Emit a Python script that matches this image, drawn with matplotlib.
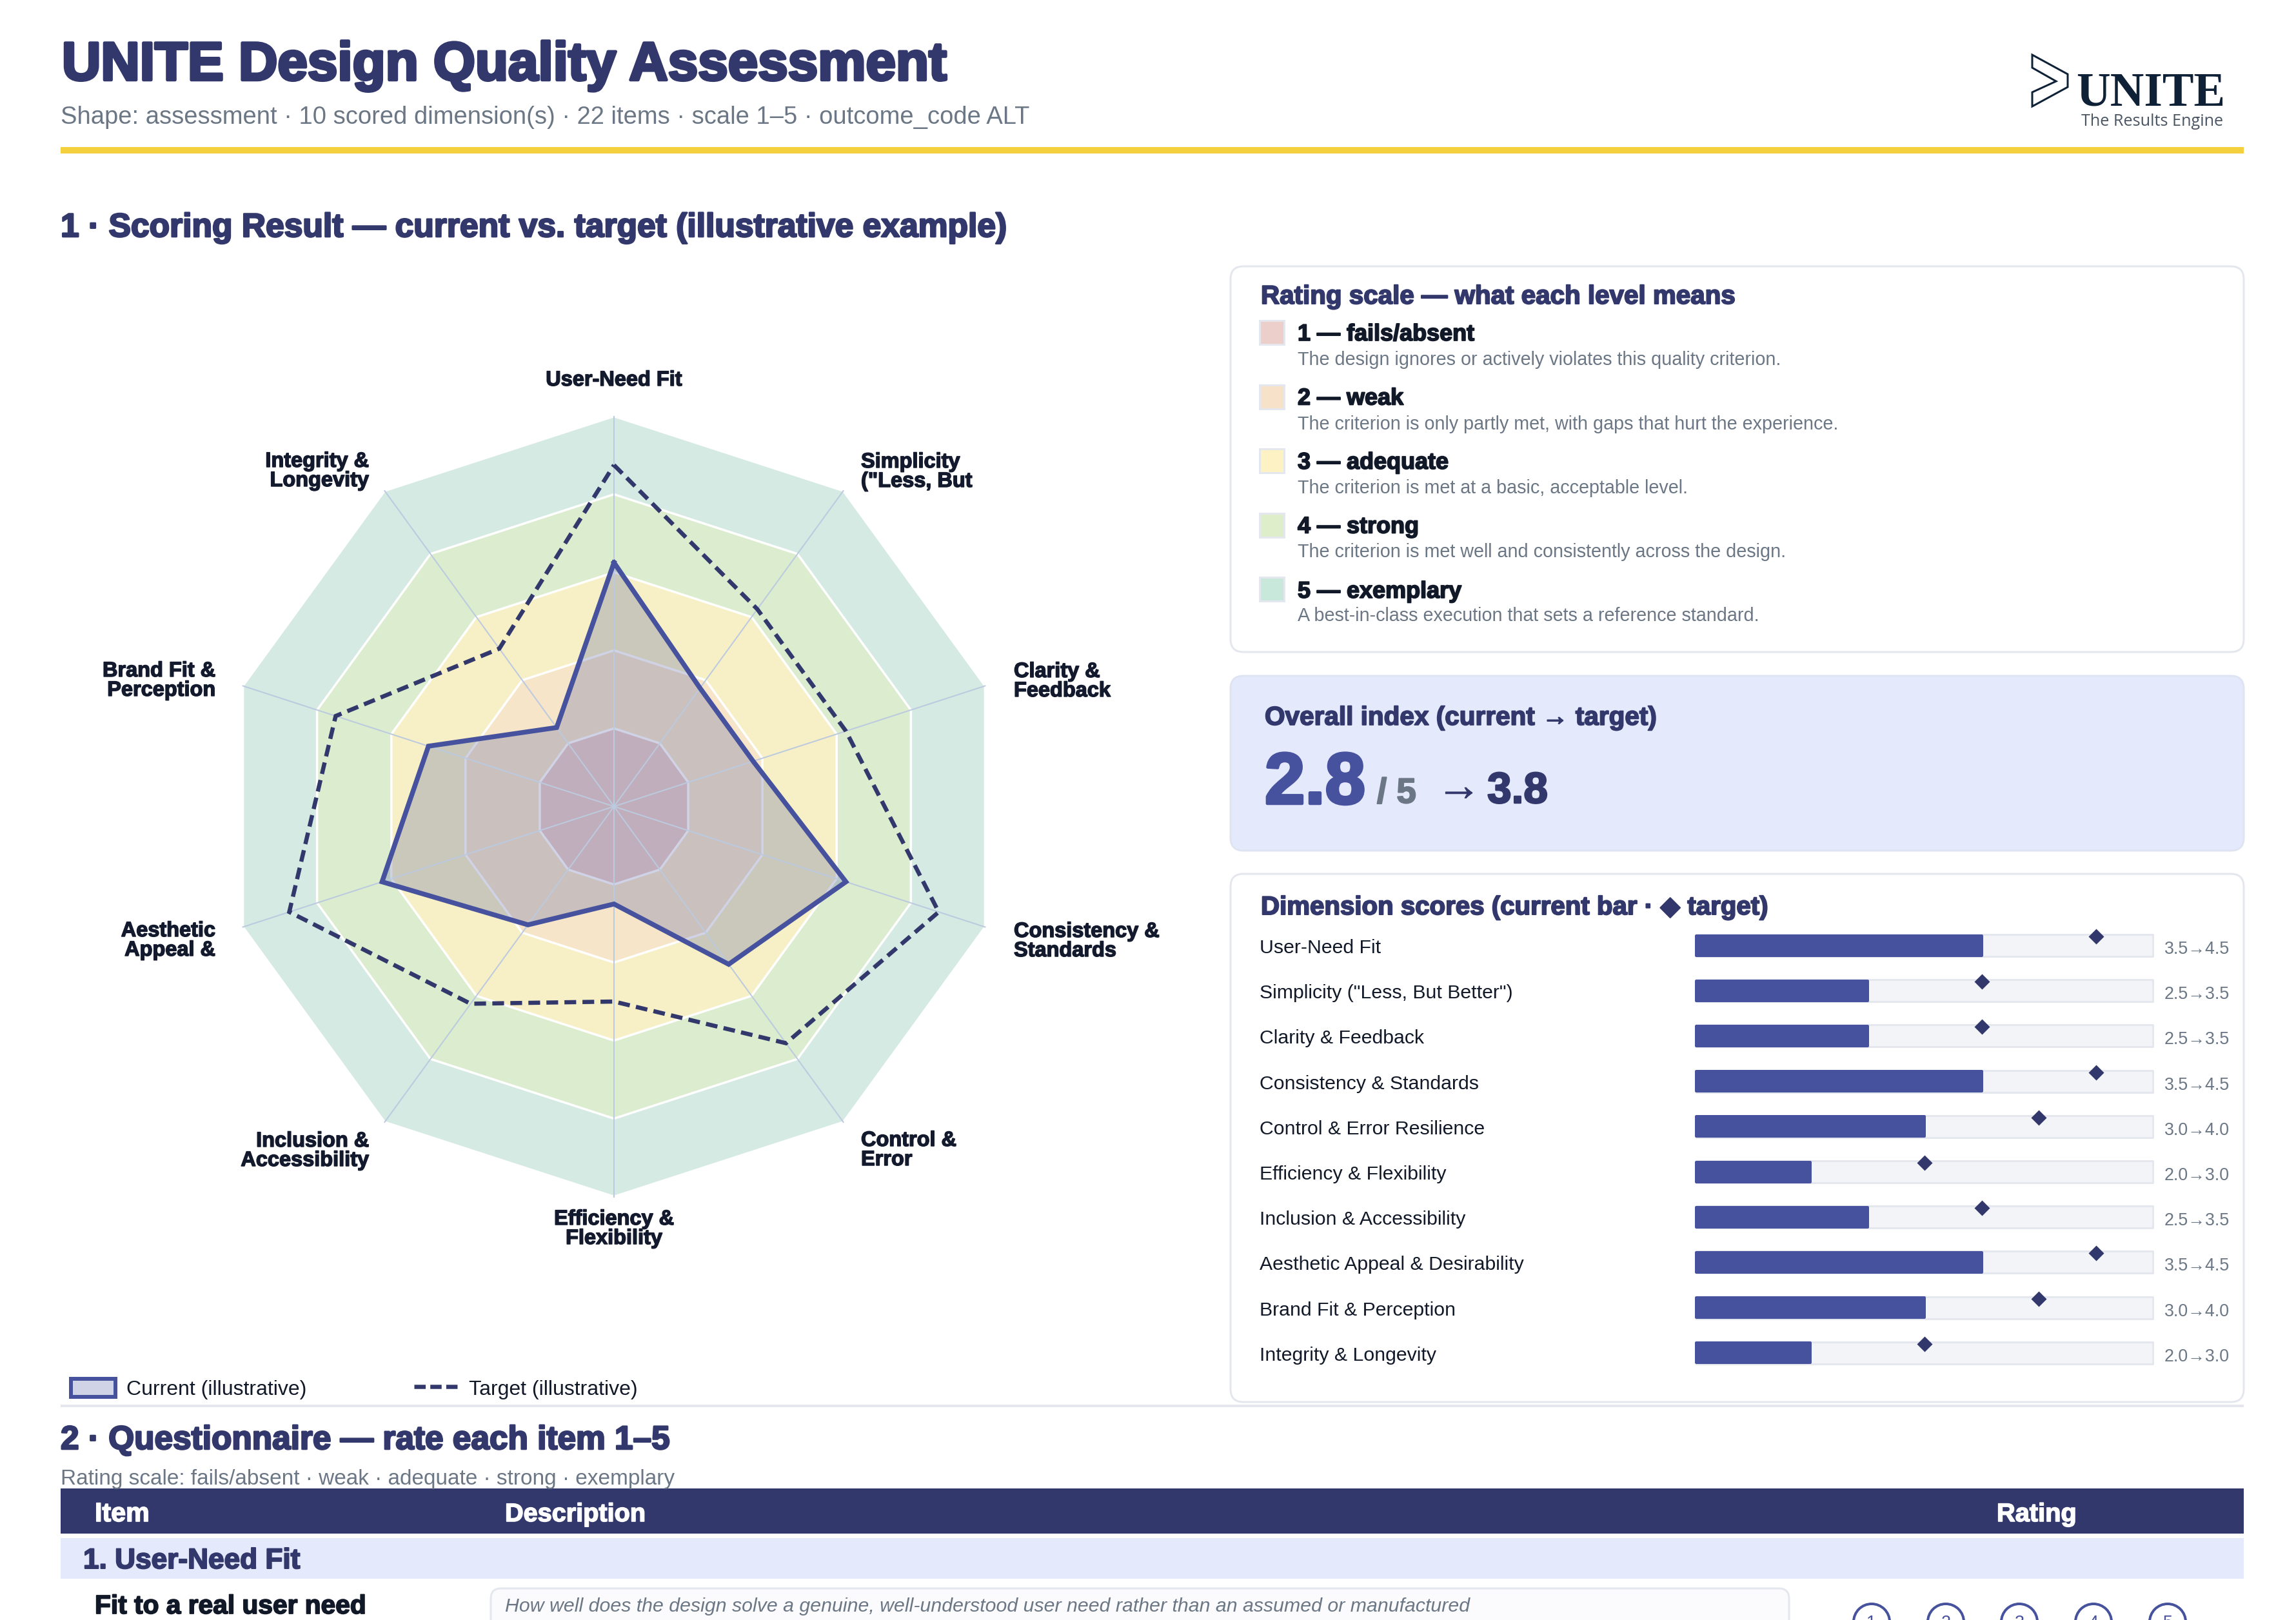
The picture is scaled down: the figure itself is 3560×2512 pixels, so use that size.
import numpy as np
import matplotlib
matplotlib.use("Agg")
import matplotlib.pyplot as plt
import matplotlib.patheffects as pe
from matplotlib.patches import FancyBboxPatch, Circle, Rectangle, Polygon, Patch
from matplotlib.lines import Line2D

# ---------- data ----------
dimensions = ["User-Need Fit", 'Simplicity ("Less, But Better")', "Clarity & Feedback",
              "Consistency & Standards", "Control & Error Resilience", "Efficiency & Flexibility",
              "Inclusion & Accessibility", "Aesthetic Appeal & Desirability",
              "Brand Fit & Perception", "Integrity & Longevity"]
current = [3.5, 2.5, 2.5, 3.5, 3.0, 2.0, 2.5, 3.5, 3.0, 2.0]
target = [4.5, 3.5, 3.5, 4.5, 4.0, 3.0, 3.5, 4.5, 4.0, 3.0]
ring_levels = [5.0, 4.2, 3.4, 2.6, 1.8]
ring_colors = ["#d4eae2", "#dbeccf", "#f7f0c6", "#f6e5c9", "#eacec7"]
radar_labels = ["User-Need Fit", 'Simplicity\n("Less, But', "Clarity &\nFeedback",
                "Consistency &\nStandards", "Control &\nError", "Efficiency &\nFlexibility",
                "Inclusion &\nAccessibility", "Aesthetic\nAppeal &", "Brand Fit &\nPerception",
                "Integrity &\nLongevity"]
scale_titles = ["1 — fails/absent", "2 — weak", "3 — adequate", "4 — strong", "5 — exemplary"]
scale_desc = ["The design ignores or actively violates this quality criterion.",
              "The criterion is only partly met, with gaps that hurt the experience.",
              "The criterion is met at a basic, acceptable level.",
              "The criterion is met well and consistently across the design.",
              "A best-in-class execution that sets a reference standard."]
scale_colors = ["#eccfca", "#f7e2c9", "#fcf2c4", "#dfeeca", "#c9e8dc"]
rating_options = ["1", "2", "3", "4", "5"]

NAVY = "#32386b"; BLUE = "#47529e"; GREY = "#6b7785"; INK = "#111827"; LINE = "#e5e7ee"
SANS = ["Liberation Sans", "DejaVu Sans"]
W, H = 3560, 2512
DPI = 200
PT = 72 / DPI   # points per pixel

fig = plt.figure(figsize=(W / DPI, H / DPI), dpi=DPI, facecolor="white")
plt.rcParams["font.family"] = SANS
renderer = fig.canvas.get_renderer()

bg = fig.add_axes([0, 0, 1, 1], zorder=1)
bg.set_xlim(0, W); bg.set_ylim(H, 0); bg.axis("off")
fg = fig.add_axes([0, 0, 1, 1], zorder=5)
fg.set_xlim(0, W); fg.set_ylim(H, 0); fg.axis("off")


def txt(x, y, s, px, color=INK, heavy=0.0, width=None, weight="normal", ha="left", style="normal",
        family=None, ax=fg, **kw):
    t = ax.text(x, y, s, fontsize=px * PT, color=color, ha=ha, va="baseline", weight=weight,
                style=style, family=family or SANS, clip_on=False, **kw)
    if width is not None:
        t.set_fontsize(t.get_fontsize() * width / t.get_window_extent(renderer).width)
    if heavy:
        t.set_path_effects([pe.withStroke(linewidth=heavy * PT, foreground=color)])
    return t


def head(x, y, s, px, color=NAVY, width=None, heavy=2.0, **kw):
    return txt(x, y + 1, s, px, color=color, heavy=heavy, width=width, weight="bold", **kw)


def card(x0, y0, x1, y1, fc="white", ec=LINE, r=20):
    bg.add_patch(FancyBboxPatch((x0, y0), x1 - x0, y1 - y0, boxstyle=f"round,pad=0,rounding_size={r}",
                                fc=fc, ec=ec, lw=3 * PT))


# ---------- header ----------
head(96, 123, "UNITE Design Quality Assessment", 76, width=1372, heavy=4.5)
txt(94, 192, "Shape: assessment · 10 scored dimension(s) · 22 items · scale 1–5 · outcome_code ALT",
    37, color=GREY, width=1500)
bg.add_patch(Rectangle((94, 228), 3385, 10, fc="#f4d03f", ec="none"))
head(94, 366, "1 · Scoring Result — current vs. target (illustrative example)", 46, width=1466, heavy=2.6)

# logo
bg.add_patch(Polygon([(3151, 85), (3206, 115), (3206, 135), (3151, 165), (3151, 143), (3188, 126), (3151, 105)],
                     closed=True, fc="white", ec="#0f2137", lw=3 * PT, joinstyle="miter"))
txt(3219, 163, "UNITE", 70, color="#0f2137", weight="bold", family="Liberation Serif", width=231)
txt(3227, 195, "The Results Engine", 24, color="#4a5563", family="Open Sans", width=221)

# ---------- radar ----------
cx, cy, R = 952, 1250.5, 605
rad = fig.add_axes([(cx - R) / W, 1 - (cy + R) / H, 2 * R / W, 2 * R / H], projection="polar", zorder=3)
rad.set_theta_offset(np.pi / 2); rad.set_theta_direction(-1)
rad.set_ylim(1, 5)
rad.axis("off")
angles = np.linspace(0, 2 * np.pi, len(dimensions), endpoint=False)
th = np.r_[angles, angles[0]]
for lvl, col in zip(ring_levels, ring_colors):
    rad.fill(th, [lvl] * len(th), facecolor=col, edgecolor="white", lw=3.5 * PT, zorder=1, clip_on=False)
cur = np.r_[current, current[0]]
tar = np.r_[target, target[0]]
rad.fill(th, cur, facecolor=BLUE, alpha=0.25, edgecolor="none", zorder=2, clip_on=False)
for a in angles:
    rad.plot([a, a], [1, 5], color="#bccadf", lw=2 * PT, zorder=3, clip_on=False)
rad.plot(th, cur, color=BLUE, lw=7.5 * PT, zorder=4, clip_on=False, solid_joinstyle="miter", label="Current (illustrative)")
rad.plot(th, tar, color=NAVY, lw=6.5 * PT, zorder=5, clip_on=False, linestyle=(0, (2.8, 1.5)),
         dash_joinstyle="miter", label="Target (illustrative)")

label_pos = [(952, 598, "center"), (1335, 755, "left"), (1572, 1080, "left"), (1572, 1483, "left"),
             (1335, 1807, "left"), (952, 1929, "center"), (572, 1808, "right"), (334, 1482, "right"),
             (334, 1079, "right"), (572, 754, "right")]
for s, (x, y, ha) in zip(radar_labels, label_pos):
    txt(x, y, s, 32.5, color="#141a2e", heavy=1.5, weight="bold", ha=ha, linespacing=1.0, multialignment=ha)

handles = [Patch(facecolor=(71 / 255, 82 / 255, 158 / 255, 0.25), edgecolor=BLUE, lw=6 * PT),
           Line2D([], [], color=NAVY, lw=6.5 * PT, linestyle=(0, (2.7, 1.1)))]
leg = fig.legend(handles, ["Current (illustrative)", "Target (illustrative)"], loc="lower left",
                 bbox_to_anchor=(110 / W, 1 - 2170 / H), ncol=2, frameon=False, fontsize=32 * PT,
                 borderpad=0, borderaxespad=0, handlelength=2.15, handleheight=1.0, handletextpad=0.53,
                 columnspacing=5.2)
leg.set_zorder(6)
for t in leg.get_texts():
    t.set_color(INK)

# ---------- rating scale card ----------
card(1908, 413, 3479, 1011)
head(1955, 470, "Rating scale — what each level means", 36, width=736, heavy=2.0)
for i, (a, b, c) in enumerate(zip(scale_titles, scale_desc, scale_colors)):
    y = 99.5 * i
    bg.add_patch(Rectangle((1953, 497 + y), 38, 37, fc=c, ec=LINE, lw=3 * PT))
    head(2012, 527 + y + (1 if i == 4 else 0), a, 36, color=INK, heavy=1.8)
    txt(2012, 566 + y - (0 if i < 4 else 1), b, 28.7, color=GREY)

# ---------- overall card ----------
card(1908, 1048, 3479, 1319, fc="#e4e9fc", ec="#e0e4f2")
head(1961, 1123, "Overall index (current → target)", 34, width=608, heavy=1.8)
head(1961, 1245, "2.8", 100, color=BLUE, width=156, heavy=4.5)
head(2135, 1244, "/ 5", 48, color=GREY, width=61, heavy=2)
head(2227, 1240, "→", 60, color=NAVY, width=70, heavy=0.8)
head(2306, 1244, "3.8", 58, color=NAVY, width=94, heavy=2.5)

# ---------- dimension scores ----------
card(1908, 1355, 3479, 2174)
head(1955, 1417, "Dimension scores (current bar · ◆ target)", 36, width=787, heavy=2.0)
STEP = 70.2
y0, n = 1466, len(dimensions)
bx0, bx1 = 2630, 3338
bars = fig.add_axes([bx0 / W, 1 - (y0 - STEP / 2 + n * STEP) / H, (bx1 - bx0) / W, n * STEP / H], zorder=3)
bars.set_xlim(1, 5); bars.set_ylim(n - 0.5, -0.5); bars.axis("off")
rows = np.arange(n)
bars.barh(rows, [4] * n, left=1, height=34 / STEP, facecolor="#f3f4f7", edgecolor=LINE, lw=3 * PT,
          joinstyle="round", clip_on=False)
bars.barh(rows, np.array(current) - 1, left=1, height=31 / STEP, facecolor=BLUE, edgecolor=BLUE, lw=4 * PT,
          joinstyle="round", clip_on=False)
bars.plot(target, rows - 14 / STEP, linestyle="none", marker="D", ms=17 * PT, color=NAVY, mec="none", clip_on=False)
for i, (name, c, t) in enumerate(zip(dimensions, current, target)):
    y = 1478 + STEP * i
    txt(1953, y, name, 30.3, color=INK)
    txt(3356, y + 1, f"{c:.1f}→{t:.1f}", 30, color=GREY, width=101)

# ---------- questionnaire ----------
bg.add_patch(Rectangle((94, 2178), 3385, 4, fc="#e6e7ee", ec="none"))
head(94, 2246, "2 · Questionnaire — rate each item 1–5", 46, width=944, heavy=2.6)
txt(94, 2302, "Rating scale: fails/absent · weak · adequate · strong · exemplary", 33, color=GREY, width=953)
bg.add_patch(Rectangle((94, 2308), 3385, 70, fc=NAVY, ec="none"))
head(147, 2358, "Item", 36, color="white", width=85, heavy=1.6)
head(783, 2358, "Description", 36, color="white", width=218, heavy=1.6)
head(3096, 2358, "Rating", 36, color="white", width=124, heavy=1.6)
bg.add_patch(Rectangle((94, 2385), 3385, 63, fc="#e4e9fc", ec="none"))
head(129, 2431, "1. User-Need Fit", 38, width=336, heavy=2.0)
head(147, 2501, "Fit to a real user need", 36, color=INK, width=421, heavy=1.8)
card(761, 2463, 2774, 2600, fc="#fbfbfd", ec=LINE, r=16)
txt(783, 2499, "How well does the design solve a genuine, well-understood user need rather than an assumed or manufactured",
    32, color=GREY, style="italic", width=1492)
for s, x in zip(rating_options, [2902, 3017, 3131, 3246, 3361]):
    bg.add_patch(Circle((x, 2515), 28, fc="white", ec=BLUE, lw=4 * PT))
    fg.text(x, 2524, s, fontsize=27 * PT, color=BLUE, ha="center", va="baseline", family=SANS, clip_on=True)

fig.savefig("out.png", dpi=DPI, facecolor="white")
